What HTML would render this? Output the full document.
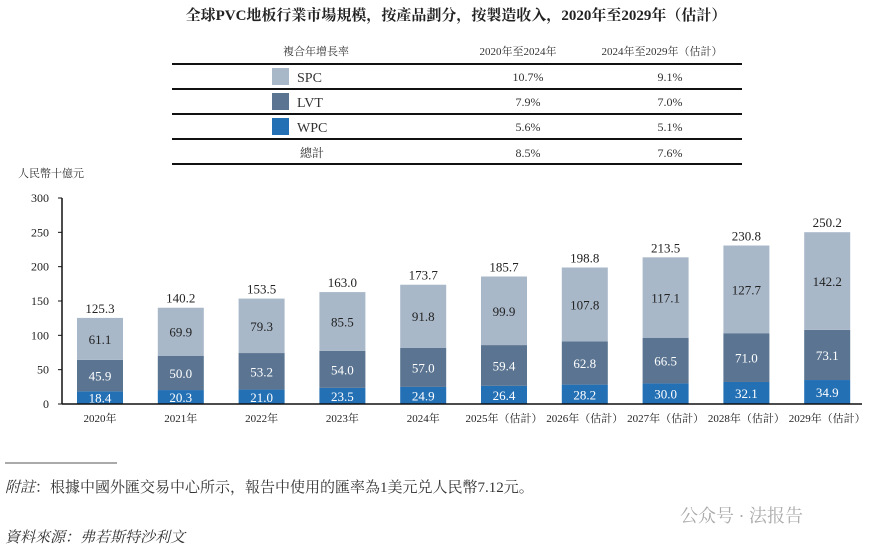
<!DOCTYPE html>
<html><head><meta charset="utf-8"><style>
body{margin:0;background:#fff;width:886px;height:550px;overflow:hidden;font-family:"Liberation Serif","Noto Serif CJK SC",serif;}
svg text{font-family:"Liberation Serif","Noto Serif CJK SC",serif;}
</style></head><body>
<svg id="c" width="886" height="550">
<text x="456" y="20" text-anchor="middle" font-size="15" font-weight="bold" fill="#222">全球PVC地板行業市場規模，按產品劃分，按製造收入，2020年至2029年（估計）</text>
<g font-size="12" fill="#333">
<text x="316" y="55" text-anchor="middle" font-size="11">複合年增長率</text>
<text x="518" y="55" text-anchor="middle" font-size="11">2020年至2024年</text>
<text x="662" y="55" text-anchor="middle" font-size="11">2024年至2029年（估計）</text>
<line x1="172" x2="742" y1="64" y2="64" stroke="#111" stroke-width="2"/>
<line x1="172" x2="742" y1="89" y2="89" stroke="#111" stroke-width="2"/>
<line x1="172" x2="742" y1="114" y2="114" stroke="#111" stroke-width="2"/>
<line x1="172" x2="742" y1="139" y2="139" stroke="#111" stroke-width="2"/>
<line x1="172" x2="742" y1="164" y2="164" stroke="#111" stroke-width="2"/>
<rect x="272" y="68" width="17" height="17" fill="#a9b8c9"/>
<text x="297" y="82" font-size="14">SPC</text>
<rect x="272" y="93" width="17" height="17" fill="#5a7491"/>
<text x="297" y="107" font-size="14">LVT</text>
<rect x="272" y="118" width="17" height="17" fill="#2370b5"/>
<text x="297" y="132" font-size="14">WPC</text>
<text x="312" y="157" text-anchor="middle">總計</text>
<text x="528" y="81" text-anchor="middle">10.7%</text><text x="670" y="81" text-anchor="middle">9.1%</text>
<text x="528" y="106" text-anchor="middle">7.9%</text><text x="670" y="106" text-anchor="middle">7.0%</text>
<text x="528" y="131" text-anchor="middle">5.6%</text><text x="670" y="131" text-anchor="middle">5.1%</text>
<text x="528" y="157" text-anchor="middle">8.5%</text><text x="670" y="157" text-anchor="middle">7.6%</text>
</g>
<text x="18" y="177" font-size="11" fill="#333">人民幣十億元</text>
<g id="plot"></g>
<line x1="5" x2="117" y1="463" y2="463" stroke="#555" stroke-width="1"/>
<text x="5" y="492" font-size="15" fill="#333"><tspan font-style="italic">附註</tspan>：根據中國外匯交易中心所示，報告中使用的匯率為1美元兑人民幣7.12元。</text>
<text x="5" y="542" font-size="15" fill="#333" font-style="italic">資料來源：弗若斯特沙利文</text>
<text x="680" y="522" font-size="18" fill="#aaa" font-family="Liberation Sans,Noto Sans CJK SC,sans-serif">公众号 · 法报告</text>
</svg>
<script>
const categories=["2020年","2021年","2022年","2023年","2024年","2025年（估計）","2026年（估計）","2027年（估計）","2028年（估計）","2029年（估計）"];
const wpc=[18.4,20.3,21.0,23.5,24.9,26.4,28.2,30.0,32.1,34.9];
const lvt=[45.9,50.0,53.2,54.0,57.0,59.4,62.8,66.5,71.0,73.1];
const spc=[61.1,69.9,79.3,85.5,91.8,99.9,107.8,117.1,127.7,142.2];
const totals=[125.3,140.2,153.5,163.0,173.7,185.7,198.8,213.5,230.8,250.2];
const yTicks=[0,50,100,150,200,250,300];
const NS="http://www.w3.org/2000/svg";
const g=document.getElementById('plot');
const y0=404,yTop=198,yMax=300;
const y=v=>y0-(v/yMax)*(y0-yTop);
const x=i=>100+i*80.8;
const bw=46;
function mk(tag,attrs,txt){const e=document.createElementNS(NS,tag);for(const k in attrs)e.setAttribute(k,attrs[k]);if(txt!==undefined)e.textContent=txt;g.appendChild(e);return e;}
yTicks.forEach(t=>{
  const l=mk('line',{x1:58,x2:62,y1:y(t),y2:y(t),stroke:'#111'});
  
  
  const tx=mk('text',{x:49,y:y(t)+4,'text-anchor':'end','font-size':12,fill:'#222'},t);
  
  
});
const ax=mk('line',{x1:62,x2:62,y1:yTop,y2:y0,stroke:'#111','stroke-width':1.5});


const series=[[wpc,'#2370b5','#fff','wpc'],[lvt,'#5a7491','#fff','lvt'],[spc,'#a9b8c9','#222','spc']];
categories.forEach((c,i)=>{
  let base=0;
  series.forEach(([arr,col,tc,nm])=>{
    const v=arr[i];
    const r=mk('rect',{x:x(i)-bw/2,y:y(base+v),width:bw,height:y(base)-y(base+v),fill:col});
    
    
    const t=mk('text',{x:x(i),y:(y(base)+y(base+v))/2+5,'text-anchor':'middle','font-size':13,fill:tc},v.toFixed(1));
    
    
    base+=v;
  });
  const tt=mk('text',{x:x(i),y:y(base)-5,'text-anchor':'middle','font-size':13,fill:'#222'},totals[i].toFixed(1));
  
  
  const xl=mk('text',{x:x(i),y:422,'text-anchor':'middle','font-size':11,fill:'#222'},c);
  
  
});
const xa=mk('line',{x1:62,x2:862,y1:y0,y2:y0,stroke:'#111','stroke-width':1.5});


</script>
</body></html>
